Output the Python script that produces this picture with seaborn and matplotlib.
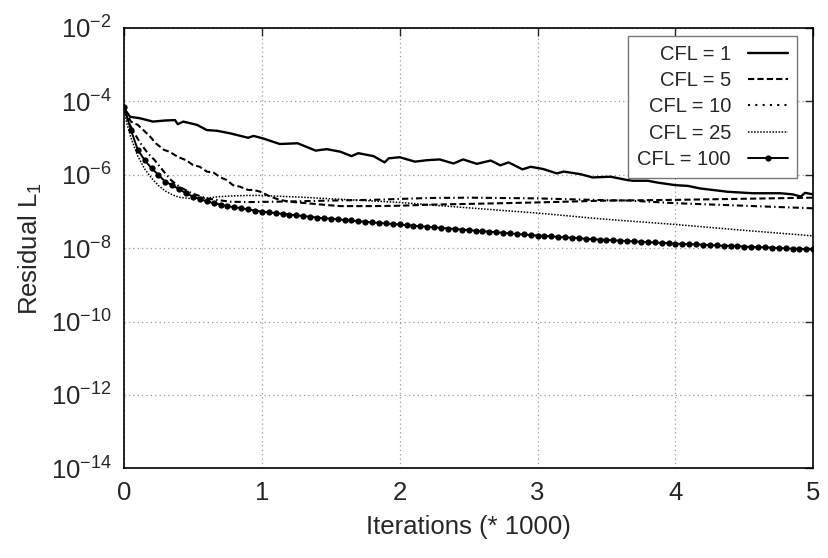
import matplotlib
matplotlib.use('Agg')
import matplotlib.pyplot as plt
from matplotlib.lines import Line2D
import numpy as np
import pandas as pd
import seaborn as sns

# Residual history, x in thousands of iterations, y read as log10(residual)

# CFL = 1 (solid)
cfl1_x = [0.0, 0.044, 0.116, 0.21, 0.30, 0.37, 0.39, 0.43, 0.53, 0.60, 0.675, 0.77, 0.90,
          0.94, 1.01, 1.13, 1.26, 1.39, 1.47, 1.57, 1.65, 1.70, 1.81, 1.89, 1.92, 2.0,
          2.11, 2.20, 2.29, 2.39, 2.46, 2.56, 2.66, 2.73, 2.79, 2.89, 2.95, 3.04, 3.14,
          3.19, 3.31, 3.40, 3.53, 3.65, 3.69, 3.80, 3.87, 4.0, 4.09, 4.18, 4.27, 4.38,
          4.47, 4.56, 4.67, 4.76, 4.85, 4.91, 4.94, 5.0]
cfl1_log = [-4.20, -4.43, -4.47, -4.56, -4.53, -4.52, -4.63, -4.56, -4.65, -4.79, -4.81, -4.88, -5.00,
            -4.95, -5.02, -5.17, -5.15, -5.35, -5.31, -5.38, -5.50, -5.42, -5.50, -5.67, -5.56, -5.53,
            -5.65, -5.61, -5.59, -5.70, -5.59, -5.71, -5.62, -5.75, -5.67, -5.86, -5.79, -5.85, -5.97,
            -5.92, -5.99, -6.08, -6.06, -6.15, -6.17, -6.17, -6.22, -6.29, -6.31, -6.38, -6.42, -6.47,
            -6.49, -6.51, -6.51, -6.51, -6.54, -6.60, -6.50, -6.54]

# CFL = 5 (dashed)
cfl5_x = [0.0, 0.05, 0.10, 0.14, 0.19, 0.23, 0.29, 0.33, 0.39, 0.45, 0.50, 0.55, 0.60, 0.65,
          0.70, 0.745, 0.79, 0.84, 0.90, 0.94, 0.99, 1.06, 1.13, 1.20, 1.32, 1.47, 1.57, 1.80,
          2.0, 2.22, 2.5, 3.0, 3.5, 4.0, 4.5, 5.0]
cfl5_log = [-4.24, -4.56, -4.65, -4.79, -4.97, -5.15, -5.33, -5.38, -5.52, -5.61, -5.74, -5.79, -5.92, -5.95,
            -6.08, -6.15, -6.29, -6.33, -6.42, -6.42, -6.47, -6.60, -6.69, -6.74, -6.78, -6.83, -6.86, -6.86,
            -6.85, -6.82, -6.80, -6.76, -6.71, -6.69, -6.66, -6.63]

# CFL = 10 (dash-dot)
cfl10_x = [0.0, 0.03, 0.07, 0.12, 0.17, 0.22, 0.28, 0.34, 0.40, 0.49, 0.60, 0.67, 0.77, 0.90,
           1.1, 1.5, 1.8, 2.2, 2.5, 3.0, 3.5, 3.67, 4.0, 4.5, 5.0]
cfl10_log = [-4.25, -4.55, -4.85, -5.15, -5.41, -5.60, -5.88, -6.15, -6.33, -6.51, -6.65, -6.69, -6.74, -6.75,
             -6.74, -6.71, -6.69, -6.64, -6.63, -6.65, -6.70, -6.71, -6.78, -6.85, -6.92]

# CFL = 25 (fine dots)
cfl25_x = [0.0, 0.02, 0.05, 0.10, 0.15, 0.20, 0.25, 0.30, 0.35, 0.40, 0.50, 0.60, 0.70, 0.80,
           0.90, 1.0, 1.3, 1.5, 2.0, 2.3, 3.0, 3.5, 4.0, 4.5, 5.0]
cfl25_log = [-4.20, -4.60, -5.00, -5.50, -5.85, -6.10, -6.30, -6.45, -6.55, -6.62, -6.66, -6.64, -6.60, -6.58,
             -6.57, -6.57, -6.62, -6.66, -6.76, -6.85, -7.05, -7.22, -7.36, -7.52, -7.67]

# CFL = 100 (line with dots), one point every 50 iterations
cfl100_iter = list(range(0, 5001, 50))
cfl100_log = [-4.15, -4.79, -5.33, -5.61, -5.83, -6.01, -6.20, -6.29, -6.40, -6.51,
              -6.60, -6.67, -6.73, -6.78, -6.82, -6.86, -6.89, -6.92, -6.95, -6.98,
              -7.01, -7.03, -7.05, -7.07, -7.09, -7.11, -7.13, -7.15, -7.17, -7.19,
              -7.20, -7.22, -7.24, -7.25, -7.27, -7.29, -7.30, -7.32, -7.33, -7.35,
              -7.36, -7.38, -7.39, -7.41, -7.42, -7.44, -7.45, -7.47, -7.48, -7.50,
              -7.51, -7.53, -7.54, -7.56, -7.57, -7.59, -7.60, -7.62, -7.63, -7.65,
              -7.66, -7.67, -7.68, -7.70, -7.71, -7.72, -7.73, -7.75, -7.76, -7.77,
              -7.78, -7.79, -7.80, -7.81, -7.82, -7.83, -7.84, -7.85, -7.86, -7.87,
              -7.88, -7.89, -7.90, -7.90, -7.91, -7.92, -7.93, -7.94, -7.94, -7.95,
              -7.96, -7.97, -7.98, -7.98, -7.99, -8.00, -8.01, -8.02, -8.02, -8.03,
              -8.04]
cfl100_x = [i / 1000 for i in cfl100_iter]

labels = ['CFL = 1', 'CFL = 5', 'CFL = 10', 'CFL = 25', 'CFL = 100']
y_tick_exp = [-2, -4, -6, -8, -10, -12, -14]
x_ticks = [0, 1, 2, 3, 4, 5]

sns.set_style('white')
plt.rcParams['font.family'] = ['Liberation Sans', 'DejaVu Sans']
plt.rcParams['mathtext.default'] = 'regular'

fig, ax = plt.subplots(figsize=(8.29, 5.58), dpi=100)
fig.subplots_adjust(left=0.1496, right=0.981, bottom=0.1604, top=0.9507)

series = [
    (cfl1_x, cfl1_log, dict(linestyle='-', linewidth=1.7)),
    (cfl5_x, cfl5_log, dict(linestyle=(0, (3, 1.5)), linewidth=1.5)),
    (cfl10_x, cfl10_log, dict(linestyle=(0, (3, 1.5, 0.7, 1.5)), linewidth=1.5)),
    (cfl25_x, cfl25_log, dict(linestyle=(0, (1, 1)), linewidth=1.1)),
    (cfl100_x, cfl100_log, dict(linestyle='-', linewidth=1.4, marker='o', markersize=4.5,
                                markeredgewidth=0)),
]

for (xs, logs, style), lab in zip(series, labels):
    df = pd.DataFrame({'x': xs, 'res': np.power(10.0, logs)})
    sns.lineplot(data=df, x='x', y='res', ax=ax, color='black', label=lab, legend=False, **style)

ax.set_yscale('log')
ax.set_xlim(0, 5)
ax.set_ylim(1e-14, 1e-2)
ax.set_xticks(x_ticks)
ax.set_xticklabels([str(t) for t in x_ticks])
ax.set_yticks([10.0 ** e for e in y_tick_exp])
ax.set_yticklabels(['10$^{%d}$' % e for e in y_tick_exp])
ax.minorticks_off()
ax.tick_params(direction='in', top=True, right=True, length=6, width=1, labelsize=18.5, pad=9)

ax.grid(True, linestyle=(0, (1, 2.5)), color='#999999', linewidth=0.9)
ax.set_axisbelow(True)
for sp in ax.spines.values():
    sp.set_color('black')
    sp.set_linewidth(1.2)

ax.set_xlabel('Iterations (* 1000)', fontsize=18.5, labelpad=7)
ax.set_ylabel('Residual L$_1$', fontsize=18.5, labelpad=5)

# legend samples drawn like the original key
handles = [
    Line2D([], [], color='black', linestyle='-', linewidth=1.7),
    Line2D([], [], color='black', linestyle=(0, (3, 1.5)), linewidth=1.5),
    Line2D([], [], color='black', linestyle=(0, (1, 2.5)), linewidth=1.5),
    Line2D([], [], color='black', linestyle=(0, (1, 1)), linewidth=1.1),
    Line2D([], [], color='black', linestyle='-', linewidth=1.4, marker='o', markersize=4.5,
           markeredgewidth=0),
]
leg = ax.legend(handles, labels, loc='upper right', bbox_to_anchor=(0.977, 0.981),
                borderaxespad=0, markerfirst=False, fancybox=False, fontsize=14.5,
                handlelength=2.0, labelspacing=0.36, borderpad=0.45, handletextpad=0.85,
                framealpha=1)
leg.get_frame().set_edgecolor('#777777')
leg.get_frame().set_linewidth(1.0)

plt.savefig('out.png', dpi=100)
